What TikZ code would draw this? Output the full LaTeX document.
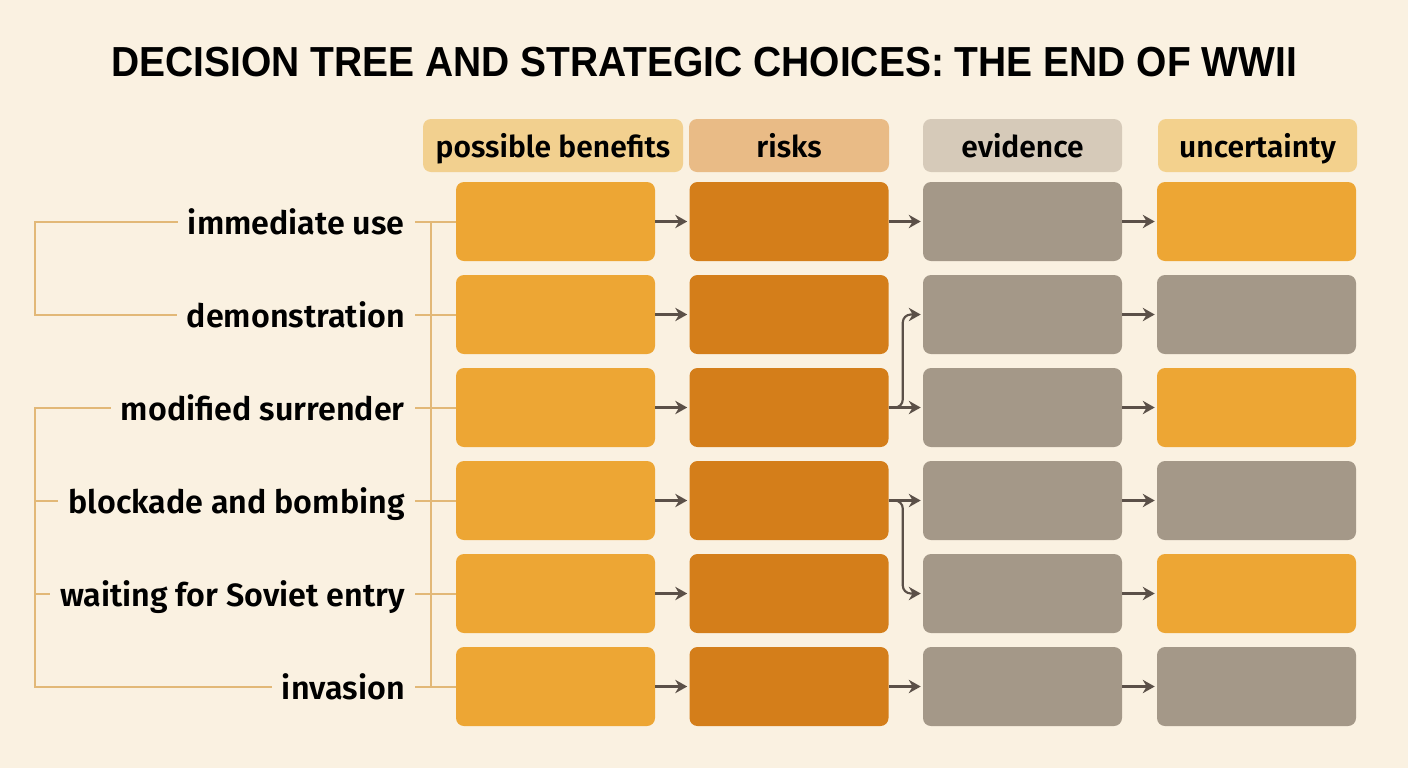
\documentclass[tikz,border=0pt]{standalone}
\usepackage{fontspec}
\setmainfont{Fira Sans}
\newfontfamily\labelfont{Fira Sans SemiBold}
\newfontfamily\titlefont{Liberation Sans}
\usetikzlibrary{arrows.meta,calc,positioning}

\definecolor{paper}{HTML}{FAF1E1}
\definecolor{benefitfill}{HTML}{EDA634}
\definecolor{riskfill}{HTML}{D47E1A}
\definecolor{evidfill}{HTML}{A49888}
\definecolor{benefithead}{HTML}{F2D08F}
\definecolor{riskhead}{HTML}{E9BB86}
\definecolor{evidhead}{HTML}{D6CAB9}
\definecolor{unchead}{HTML}{F3D18D}
\definecolor{linktan}{HTML}{E2B877}
\definecolor{arrowgrey}{HTML}{5B5048}

\begin{document}
\begin{tikzpicture}[x=0.75pt,y=0.75pt,yscale=-1,xscale=1,
  cell/.style={rectangle, rounded corners=6pt, minimum width=149.25pt, minimum height=59.25pt, inner sep=0pt},
  head/.style={rectangle, rounded corners=6pt, minimum height=39.75pt, inner sep=0pt, text height=18pt, text depth=0pt, font=\labelfont\fontsize{22.5}{23}\selectfont},
  option/.style={anchor=base east, inner sep=0pt, font=\labelfont\fontsize{24.2}{25}\selectfont},
  link/.style={draw=linktan, line width=1.5pt},
  flow/.style={draw=arrowgrey, line width=1.6pt, -{Stealth[length=9pt,width=10pt]}, shorten >=1.5pt}]
%set diagram left start at 0, and has height of 768
\fill[paper] (0,0) rectangle (1408,768);
\useasboundingbox (0,0) rectangle (1408,768);

% Title
\node[anchor=base, inner sep=0pt, font=\titlefont\bfseries\fontsize{31.5}{32}\selectfont] (title) at (704,76) {\scalebox{0.928}[1]{DECISION TREE AND STRATEGIC CHOICES: THE END OF WWII}};

% Column heads
\node[head, fill=benefithead, minimum width=195pt] (h1) at (553,145.5) {possible benefits};
\node[head, fill=riskhead, minimum width=150pt] (h2) at (789,145.5) {risks};
\node[head, fill=evidhead, minimum width=149.25pt] (h3) at (1022.5,145.5) {evidence};
\node[head, fill=unchead, minimum width=149.25pt] (h4) at (1257.5,145.5) {uncertainty};

% Options
\node[option] (l1) at (405,234) {immediate use};
\node[option] (l2) at (405,327) {demonstration};
\node[option] (l3) at (405,420) {modified surrender};
\node[option] (l4) at (405,513) {blockade and bombing};
\node[option] (l5) at (405,606) {waiting for Soviet entry};
\node[option] (l6) at (405,699) {invasion};

% Row 1
\node[cell, fill=benefitfill] (b11) at (555.5,221.5) {};
\node[cell, fill=riskfill] (b21) at (789,221.5) {};
\node[cell, fill=evidfill] (b31) at (1022.5,221.5) {};
\node[cell, fill=benefitfill] (b41) at (1256.5,221.5) {};
% Row 2
\node[cell, fill=benefitfill] (b12) at (555.5,314.5) {};
\node[cell, fill=riskfill] (b22) at (789,314.5) {};
\node[cell, fill=evidfill] (b32) at (1022.5,314.5) {};
\node[cell, fill=evidfill] (b42) at (1256.5,314.5) {};
% Row 3
\node[cell, fill=benefitfill] (b13) at (555.5,407.5) {};
\node[cell, fill=riskfill] (b23) at (789,407.5) {};
\node[cell, fill=evidfill] (b33) at (1022.5,407.5) {};
\node[cell, fill=benefitfill] (b43) at (1256.5,407.5) {};
% Row 4
\node[cell, fill=benefitfill] (b14) at (555.5,500.5) {};
\node[cell, fill=riskfill] (b24) at (789,500.5) {};
\node[cell, fill=evidfill] (b34) at (1022.5,500.5) {};
\node[cell, fill=evidfill] (b44) at (1256.5,500.5) {};
% Row 5
\node[cell, fill=benefitfill] (b15) at (555.5,593.5) {};
\node[cell, fill=riskfill] (b25) at (789,593.5) {};
\node[cell, fill=evidfill] (b35) at (1022.5,593.5) {};
\node[cell, fill=benefitfill] (b45) at (1256.5,593.5) {};
% Row 6
\node[cell, fill=benefitfill] (b16) at (555.5,686.5) {};
\node[cell, fill=riskfill] (b26) at (789,686.5) {};
\node[cell, fill=evidfill] (b36) at (1022.5,686.5) {};
\node[cell, fill=evidfill] (b46) at (1256.5,686.5) {};

% Bracket ends and trunk
\coordinate (k1) at (35,221.5);
\coordinate (k2) at (35,314.5);
\coordinate (k3) at (35,407.5);
\coordinate (k4) at (35,500.5);
\coordinate (k5) at (35,593.5);
\coordinate (k6) at (35,686.5);
\coordinate (t1) at (431,221.5);
\coordinate (t6) at (431,686.5);

% Left brackets
\draw[link] ($(l1.west|-b11.west)+(-10,0)$) -- (k1) -- (k2) -- ($(l2.west|-b12.west)+(-10,0)$);
\draw[link] ($(l3.west|-b13.west)+(-10,0)$) -- (k3) -- (k6) -- ($(l6.west|-b16.west)+(-10,0)$);
\draw[link] (k4) -- ($(l4.west|-b14.west)+(-10,0)$);
\draw[link] (k5) -- ($(l5.west|-b15.west)+(-10,0)$);

% Trunk to first column
\draw[link] (t1) -- (t6);
\draw[link] ($(l1.east|-b11.west)+(10,0)$) -- (b11.west);
\draw[link] ($(l2.east|-b12.west)+(10,0)$) -- (b12.west);
\draw[link] ($(l3.east|-b13.west)+(10,0)$) -- (b13.west);
\draw[link] ($(l4.east|-b14.west)+(10,0)$) -- (b14.west);
\draw[link] ($(l5.east|-b15.west)+(10,0)$) -- (b15.west);
\draw[link] ($(l6.east|-b16.west)+(10,0)$) -- (b16.west);

% Benefits to risks
\draw[flow] (b11.east) -- (b21.west);
\draw[flow] (b12.east) -- (b22.west);
\draw[flow] (b13.east) -- (b23.west);
\draw[flow] (b14.east) -- (b24.west);
\draw[flow] (b15.east) -- (b25.west);
\draw[flow] (b16.east) -- (b26.west);

% Risks to evidence
\draw[flow] (b21.east) -- (b31.west);
\draw[flow] (b23.east) -- (b33.west);
\draw[flow, rounded corners=6pt] (b23.east) -- ++(14,0) |- (b32.west);
\draw[flow] (b24.east) -- (b34.west);
\draw[flow, rounded corners=6pt] (b24.east) -- ++(14,0) |- (b35.west);
\draw[flow] (b26.east) -- (b36.west);

% Evidence to uncertainty
\draw[flow] (b31.east) -- (b41.west);
\draw[flow] (b32.east) -- (b42.west);
\draw[flow] (b33.east) -- (b43.west);
\draw[flow] (b34.east) -- (b44.west);
\draw[flow] (b35.east) -- (b45.west);
\draw[flow] (b36.east) -- (b46.west);

\end{tikzpicture}
\end{document}
